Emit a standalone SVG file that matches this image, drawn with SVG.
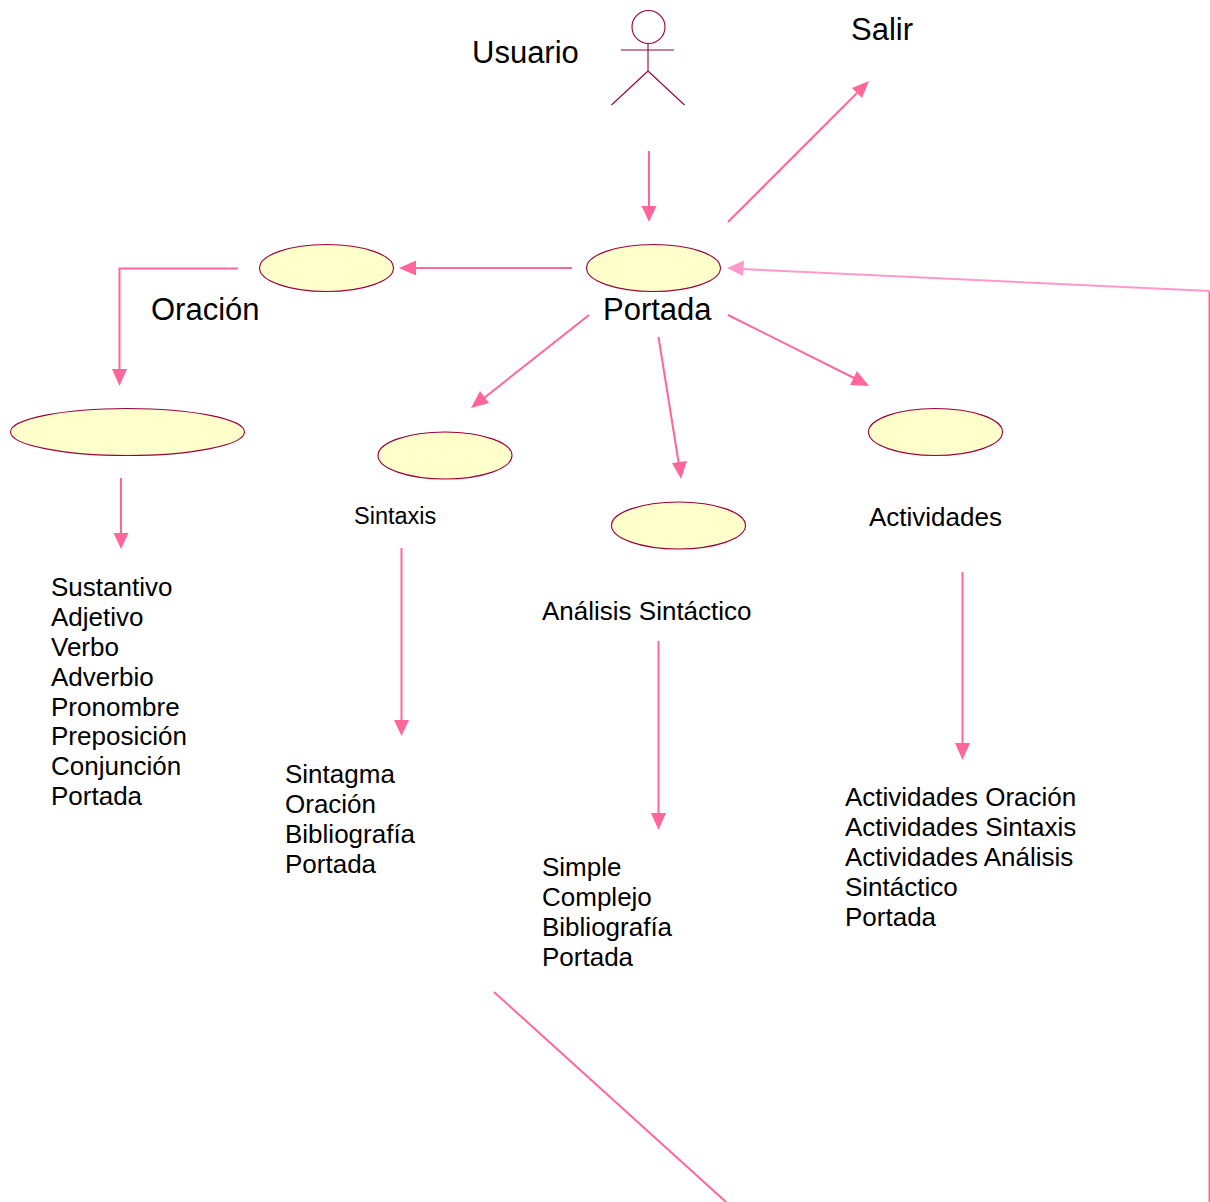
<svg xmlns="http://www.w3.org/2000/svg" width="1210" height="1202" viewBox="0 0 1210 1202">
<style>
text{font-family:"Liberation Sans",Arial,sans-serif;fill:#000}
.t31{font-size:31px}.t26{font-size:26px}.t23{font-size:23.500px}
.uc{fill:#ffffcb;stroke:#99003d;stroke-width:1.1}
.actor{fill:none;stroke:#99003d;stroke-width:1.1}
.c{fill:none;stroke:#ff6699;stroke-width:2}
.c2{fill:none;stroke:#ff99cc;stroke-width:2}
.h{fill:#ff6699}.h2{fill:#ff99cc}
</style>
<rect width="1210" height="1202" fill="#fff"/>
<g id="connectors">
<path class="c" d="M649 151V207"/><polygon class="h" points="649,222 641.500,206 656.500,206"/>
<path class="c" d="M728 222L857 93"/><polygon class="h" points="869,81 862,98 852,88"/>
<path class="c" d="M572 268H413"/><polygon class="h" points="399,268 416,260.500 416,275.500"/>
<path class="c" d="M238 268.500H119.500V370"/><polygon class="h" points="119.500,386 112,369 127,369"/>
<path class="c" d="M121 478V534"/><polygon class="h" points="121,549 113.500,533 128.500,533"/>
<path class="c" d="M589 315L484 398"/><polygon class="h" points="471,408 480,391 489,403"/>
<path class="c" d="M658.500 337L679 465"/><polygon class="h" points="681,479 672,463 687,461"/>
<path class="c" d="M728 315L854 378"/><polygon class="h" points="869,386 850,385 857,371"/>
<path class="c" d="M401.500 548V721"/><polygon class="h" points="401.500,736 394,720 409,720"/>
<path class="c" d="M658.500 641V814"/><polygon class="h" points="658.500,830 651,813 666,813"/>
<path class="c" d="M962.500 572V744"/><polygon class="h" points="962.500,760 955,743 970,743"/>
<path class="c" d="M494 992L726 1202"/>
<path class="c" d="M1209.500 291V1202"/>
<path class="c2" d="M1209.500 291L742 269"/><polygon class="h2" points="727,268 744,260.500 743,276"/>
</g>
<g id="usuario-actor">
<circle class="actor" cx="648.500" cy="27" r="16.500"/>
<path class="actor" d="M648 43V71M621 50H674M648 71L611.500 105M648 71L684.500 105"/>
<text class="t31" x="472" y="63">Usuario</text>
</g>
<g id="salir"><text class="t31" x="851" y="40">Salir</text></g>
<g id="portada"><ellipse class="uc" cx="653.500" cy="268" rx="67" ry="23.500"/><text class="t31" x="603" y="320">Portada</text></g>
<g id="oracion"><ellipse class="uc" cx="326.500" cy="268" rx="67" ry="23.500"/><text class="t31" x="151" y="320">Oración</text></g>
<g id="categorias"><ellipse class="uc" cx="127.500" cy="432" rx="117" ry="23.500"/>
<text class="t26" x="51" y="596">Sustantivo</text><text class="t26" x="51" y="626">Adjetivo</text><text class="t26" x="51" y="656">Verbo</text><text class="t26" x="51" y="686">Adverbio</text><text class="t26" x="51" y="716">Pronombre</text><text class="t26" x="51" y="745">Preposición</text><text class="t26" x="51" y="775">Conjunción</text><text class="t26" x="51" y="805">Portada</text></g>
<g id="sintaxis"><ellipse class="uc" cx="445" cy="455.500" rx="67" ry="23.500"/><text class="t23" x="354" y="524">Sintaxis</text>
<text class="t26" x="285" y="783">Sintagma</text><text class="t26" x="285" y="813">Oración</text><text class="t26" x="285" y="843">Bibliografía</text><text class="t26" x="285" y="873">Portada</text></g>
<g id="analisis"><ellipse class="uc" cx="678.500" cy="525.500" rx="67" ry="23.500"/><text class="t26" x="542" y="620">Análisis Sintáctico</text>
<text class="t26" x="542" y="876">Simple</text><text class="t26" x="542" y="906">Complejo</text><text class="t26" x="542" y="936">Bibliografía</text><text class="t26" x="542" y="966">Portada</text></g>
<g id="actividades"><ellipse class="uc" cx="935.500" cy="432" rx="67" ry="23.500"/><text class="t26" x="869" y="526">Actividades</text>
<text class="t26" x="845" y="806">Actividades Oración</text><text class="t26" x="845" y="836">Actividades Sintaxis</text><text class="t26" x="845" y="866">Actividades Análisis</text><text class="t26" x="845" y="896">Sintáctico</text><text class="t26" x="845" y="926">Portada</text></g>
</svg>
